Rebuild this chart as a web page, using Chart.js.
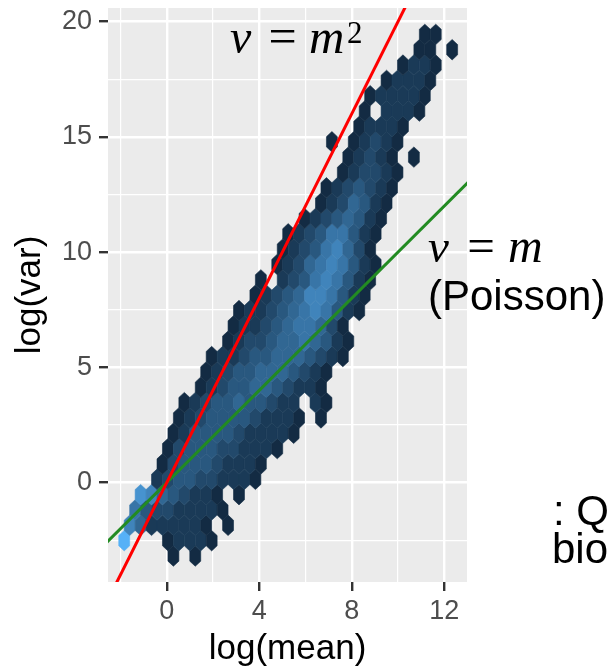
<!DOCTYPE html>
<html><head><meta charset="utf-8">
<script src="https://cdn.jsdelivr.net/npm/chart.js@4.4.1/dist/chart.umd.min.js"></script>
<style>html,body{margin:0;padding:0;background:#fff;}canvas{display:block;}</style>
</head><body>
<canvas id="c" width="613" height="669"></canvas>
<script>
// ---------------- data ----------------
const xTickLabels = [0, 4, 8, 12];
const yTickLabels = [0, 5, 10, 15, 20];
const xRange = [-2.538, 12.983];
const yRange = [-4.308, 20.59];

// hex bins: row index, first column index of the row,
// and one count level per cell (columns step by 2, '.' = empty bin)
const hexRowIndex = [-1,0,1,2,3,4,5,6,7,8,9,10,11,12,13,14,15,16,17,18,19,20,21,22,23,24,25,26,27,28,29,30,31,32,33];
const hexRowFirstCol = [9,0,1,2,3,6,7,8,9,10,11,14,15,16,19,20,21,24,25,28,29,30,33,36,37,40,41,38,43,44,45,48,51,54,55];
const hexRowLevels = [
  "0.0",
  "9...01110",
  "64111110.0",
  "532211110",
  "76432110.0",
  "1233221110",
  "0233321110",
  "02333221110",
  "013333211110",
  "012333321110.0",
  "01233433211.10",
  "012334432110",
  "012334443210",
  "0112334443210",
  "012234454310",
  "01123455420",
  "011234565310",
  "01234665310",
  "0.123565310",
  "0124565310",
  "012356420",
  "012355310",
  "01234310",
  "0124310",
  "0123210",
  "012210",
  "01210.0",
  "0.01210",
  "01110",
  "0.1110",
  "011110",
  "01110",
  "0110",
  "00.0",
  "00"
];
const hexLevelMax = 9;
// hex lattice (data units)
const hexOrigin = [-1.837, -2.516];
const hexColStep = 0.2363;
const hexRowStep = 0.6655;

// reference lines log(var) = 2 log(mean)  and  log(var) = log(mean)
const lineSquareX = [-2.4, 10.6];
const lineSquareY = [-4.8, 21.2];
const linePoissonX = [-2.8, 13.2];
const linePoissonY = [-2.8, 13.2];

// ---------------- build ----------------
const hexPoints = [];
hexRowIndex.forEach((row, r) => {
  const s = hexRowLevels[r];
  for (let k = 0; k < s.length; k++) {
    const ch = s[k];
    if (ch === '.') continue;
    const col = hexRowFirstCol[r] + 2 * k;
    hexPoints.push({x: hexOrigin[0] + col * hexColStep, y: hexOrigin[1] + row * hexRowStep, level: +ch});
  }
});

const LOW = [0x13, 0x2B, 0x43], HIGH = [0x56, 0xB1, 0xF7];
function levelColor(l) {
  const t = l / hexLevelMax;
  const c = LOW.map((v, i) => Math.round(v + (HIGH[i] - v) * t));
  return `rgb(${c[0]},${c[1]},${c[2]})`;
}

const SANS = "'Liberation Sans', Arial, sans-serif";

const bgPlugin = {
  id: 'panelBg',
  beforeDraw(chart) {
    const {ctx, chartArea: a} = chart;
    ctx.save();
    ctx.fillStyle = '#EBEBEB';
    ctx.fillRect(a.left, a.top, a.right - a.left, a.bottom - a.top);
    ctx.restore();
  }
};

const hexPlugin = {
  id: 'hexDraw',
  beforeDatasetsDraw(chart) {
    const {ctx, chartArea: a} = chart;
    const xs = chart.scales.x, ys = chart.scales.y;
    const meta = chart.getDatasetMeta(0);
    const data = chart.data.datasets[0].data;
    const hw = Math.abs(xs.getPixelForValue(hexColStep) - xs.getPixelForValue(0));
    const rh = Math.abs(ys.getPixelForValue(hexRowStep) - ys.getPixelForValue(0));
    const v = rh * 2 / 3, s = rh / 3;
    ctx.save();
    ctx.beginPath();
    ctx.rect(a.left, a.top, a.right - a.left, a.bottom - a.top);
    ctx.clip();
    meta.data.forEach((el, i) => {
      const cx = el.x, cy = el.y;
      const col = levelColor(data[i].level);
      ctx.beginPath();
      ctx.moveTo(cx, cy - v);
      ctx.lineTo(cx + hw, cy - s);
      ctx.lineTo(cx + hw, cy + s);
      ctx.lineTo(cx, cy + v);
      ctx.lineTo(cx - hw, cy + s);
      ctx.lineTo(cx - hw, cy - s);
      ctx.closePath();
      ctx.fillStyle = col;
      ctx.fill();
      ctx.strokeStyle = col;
      ctx.lineWidth = 0.6;
      ctx.stroke();
    });
    ctx.restore();
  }
};

const serifI = (s) => `italic ${s}px 'Liberation Serif', 'Times New Roman', serif`;
const serif = (s) => `${s}px 'Liberation Serif', 'Times New Roman', serif`;
const sans = (s) => `${s}px ${SANS}`;
const annotations = [
  {t: 'v', f: serifI(48), x: 230, y: 53, a: 'left'},
  {t: '=', f: serif(50), x: 282.5, y: 53, a: 'center'},
  {t: 'm', f: serifI(49), x: 309, y: 53, a: 'left'},
  {t: '2', f: serif(31), x: 347, y: 43, a: 'left'},
  {t: 'v', f: serifI(47), x: 428, y: 262, a: 'left'},
  {t: '=', f: serif(49), x: 481, y: 262, a: 'center'},
  {t: 'm', f: serifI(48), x: 508, y: 262, a: 'left'},
  {t: '(Poisson)', f: sans(42), x: 428, y: 310, a: 'left'},
  {t: ': Q', f: sans(42), x: 553, y: 525, a: 'left'},
  {t: 'bio', f: sans(42), x: 552, y: 563, a: 'left'}
];
const annotPlugin = {
  id: 'annot',
  afterDraw(chart) {
    const ctx = chart.ctx;
    ctx.save();
    ctx.fillStyle = '#000000';
    ctx.textBaseline = 'alphabetic';
    annotations.forEach(o => {
      ctx.font = o.f;
      ctx.textAlign = o.a;
      ctx.fillText(o.t, o.x, o.y);
    });
    ctx.restore();
  }
};

function zeroPad(s) { s.paddingTop = 0; s.paddingBottom = 0; s.paddingLeft = 0; s.paddingRight = 0; }
const isMaj = (list, v) => list.some(t => Math.abs(t - v) < 1e-6);

new Chart(document.getElementById('c'), {
  type: 'scatter',
  data: {
    datasets: [
      {label: 'hex', data: hexPoints, pointRadius: 0, pointHoverRadius: 0, order: 3},
      {label: 'v = m^2', data: lineSquareX.map((x, i) => ({x, y: lineSquareY[i]})), showLine: true,
       borderColor: '#FF0000', borderWidth: 3, pointRadius: 0, clip: 0, order: 1},
      {label: 'v = m', data: linePoissonX.map((x, i) => ({x, y: linePoissonY[i]})), showLine: true,
       borderColor: '#228B22', borderWidth: 3, pointRadius: 0, clip: 0, order: 2}
    ]
  },
  options: {
    responsive: false,
    animation: false,
    events: [],
    devicePixelRatio: 1,
    layout: {padding: {left: 0, top: 8, right: 146, bottom: 0}},
    plugins: {legend: {display: false}, tooltip: {enabled: false}},
    scales: {
      x: {
        type: 'linear', min: xRange[0], max: xRange[1],
        afterFit(s) { s.height = 87; zeroPad(s); },
        border: {display: false},
        grid: {
          color: '#FFFFFF',
          lineWidth: (c) => (c.tick && isMaj(xTickLabels, c.tick.value)) ? 2.4 : 1.2,
          tickLength: 9,
          tickColor: (c) => (c.tick && isMaj(xTickLabels, c.tick.value)) ? '#333333' : 'rgba(0,0,0,0)',
          tickWidth: 2.4
        },
        ticks: {
          stepSize: 2, includeBounds: false, autoSkip: false, maxRotation: 0, minRotation: 0,
          maxTicksLimit: 100, padding: 4, color: '#4D4D4D',
          font: {family: SANS, size: 27},
          callback: (v) => isMaj(xTickLabels, v) ? String(Math.round(v)) : ''
        },
        title: {display: true, text: 'log(mean)', color: '#000000',
          font: {family: SANS, size: 35, lineHeight: 1}, padding: {top: 0, bottom: 2}}
      },
      y: {
        type: 'linear', min: yRange[0], max: yRange[1],
        afterFit(s) { s.width = 108; zeroPad(s); },
        border: {display: false},
        grid: {
          color: '#FFFFFF',
          lineWidth: (c) => (c.tick && isMaj(yTickLabels, c.tick.value)) ? 2.4 : 1.2,
          tickLength: 9,
          tickColor: (c) => (c.tick && isMaj(yTickLabels, c.tick.value)) ? '#333333' : 'rgba(0,0,0,0)',
          tickWidth: 2.4
        },
        ticks: {
          stepSize: 2.5, includeBounds: false, autoSkip: false,
          maxTicksLimit: 100, padding: 7, color: '#4D4D4D',
          font: {family: SANS, size: 27},
          callback: (v) => isMaj(yTickLabels, v) ? String(Math.round(v)) : ''
        },
        title: {display: true, text: 'log(var)', color: '#000000',
          font: {family: SANS, size: 35, lineHeight: 1}, padding: {top: 12.5, bottom: 0}}
      }
    }
  },
  plugins: [bgPlugin, hexPlugin, annotPlugin]
});
</script>
</body></html>
